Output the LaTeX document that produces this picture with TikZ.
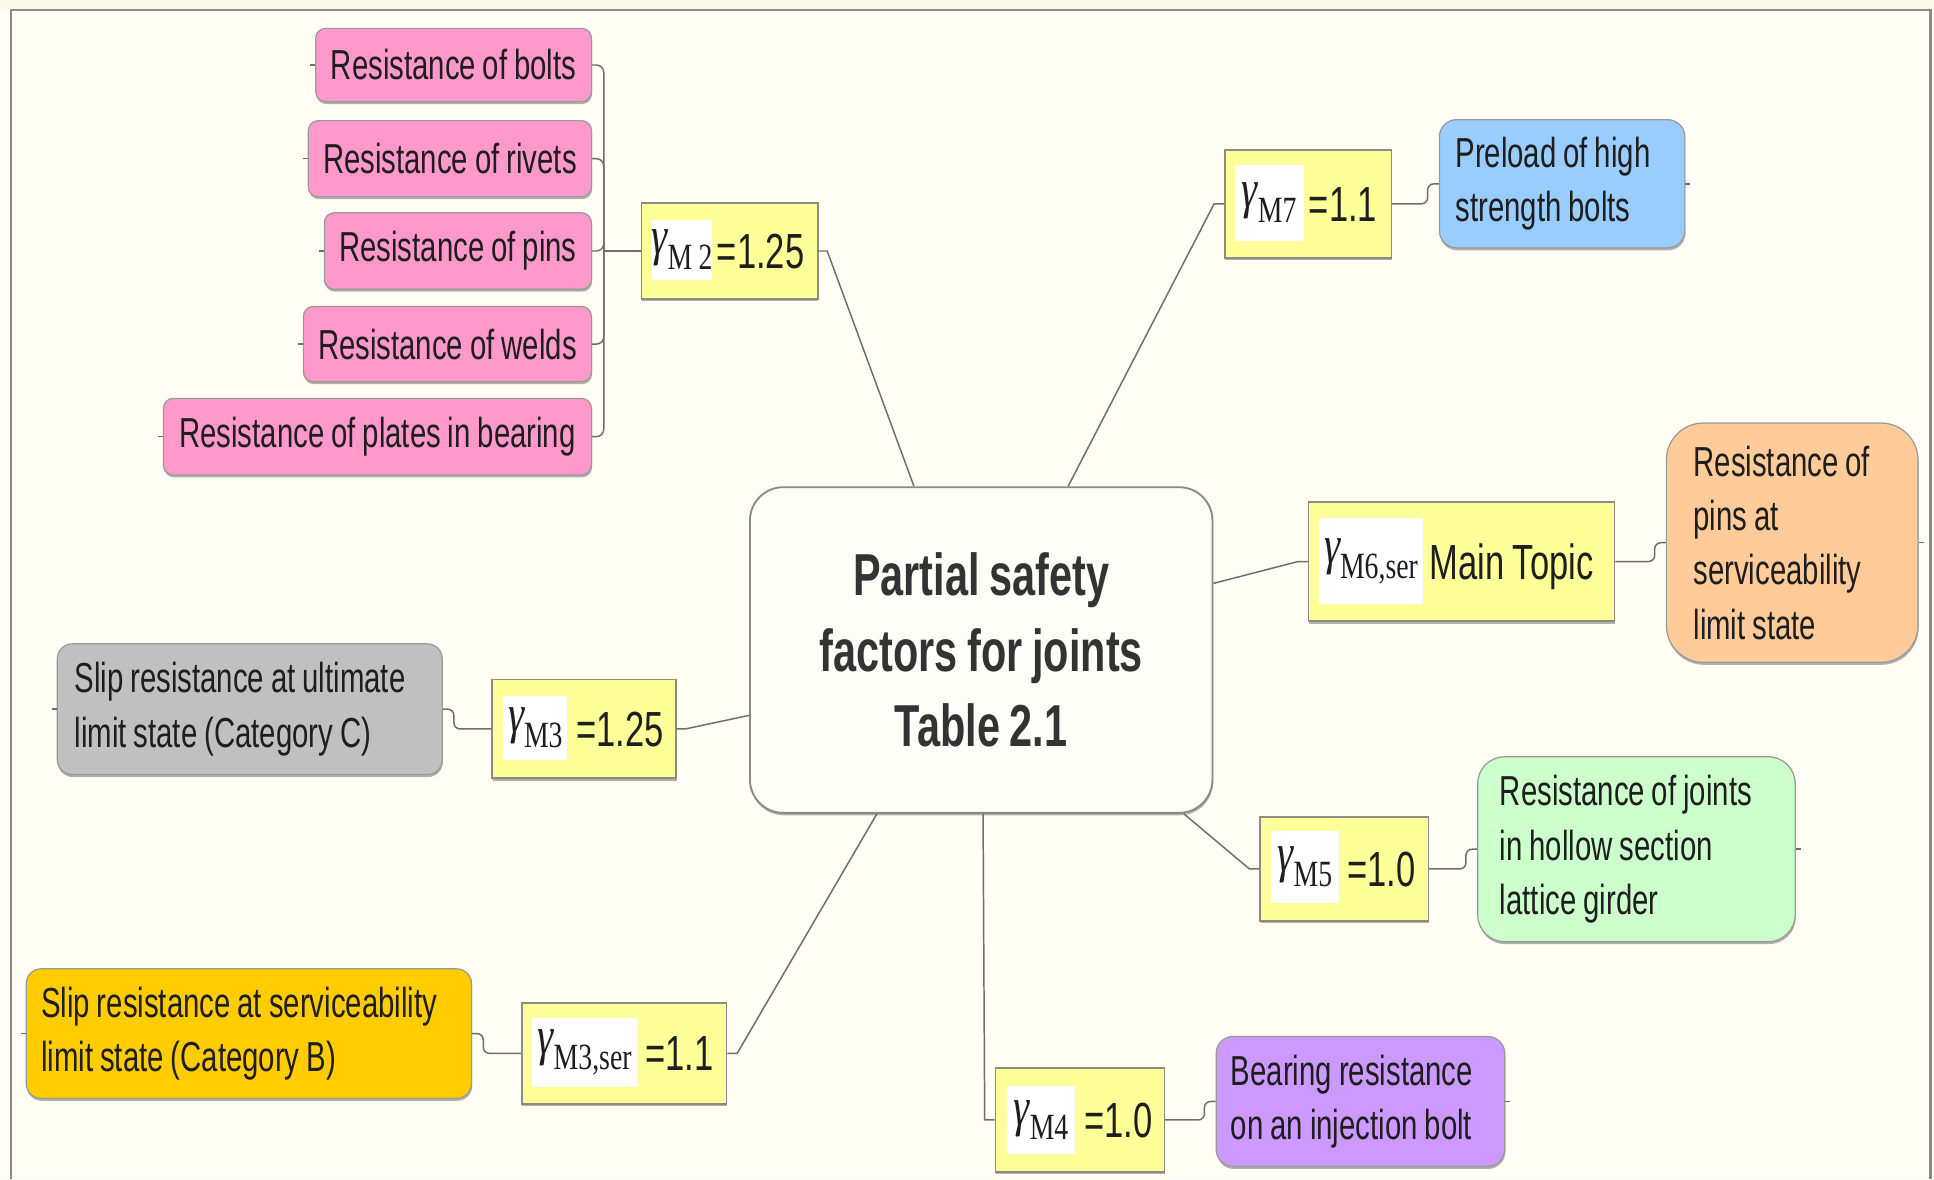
\documentclass[tikz,border=0pt]{standalone}
\usepackage{fontspec}
\setmainfont{Liberation Sans}[FakeStretch=0.7,WordSpace=0.85]
\newfontfamily\gfont{Liberation Serif}[FakeStretch=0.75]
\usetikzlibrary{calc,shadows}
\hyphenpenalty=10000
\exhyphenpenalty=10000
\definecolor{bgc}{HTML}{FEFEF5}
\definecolor{stripc}{HTML}{FAF9EA}
\definecolor{framec}{HTML}{8A8A86}
\definecolor{linec}{HTML}{6E6E6E}
\definecolor{txtc}{HTML}{1E1E1E}
\definecolor{titlec}{HTML}{333333}
\definecolor{yel}{HTML}{FFFF99}
\definecolor{ybord}{HTML}{8C8C80}
\definecolor{cbord}{HTML}{999999}
\definecolor{pinkc}{HTML}{FF99CC}
\definecolor{bluec}{HTML}{99CCFF}
\definecolor{orangec}{HTML}{FFCC99}
\definecolor{greenc}{HTML}{CCFFCC}
\definecolor{purplec}{HTML}{CC99FF}
\definecolor{grayc}{HTML}{C0C0C0}
\definecolor{goldc}{HTML}{FFCC00}
\definecolor{centerc}{HTML}{FEFEF8}
\newcommand\gsym[1]{{\gfont\fontsize{44}{44}\selectfont\itshape γ}\raisebox{-12pt}{\gfont\fontsize{30}{30}\selectfont #1}}
\tikzset{
  shade1/.style={drop shadow={shadow xshift=0.5pt, shadow yshift=-2pt, opacity=0.3, fill=black}},
  txt/.style={font=\fontsize{34}{44}\selectfont, text=txtc},
  childbox/.style={txt, draw=cbord, line width=1pt, inner ysep=0pt, align=flush left, shade1},
  pinkbox/.style={txt, draw=cbord, line width=1pt, inner sep=0pt, fill=pinkc, rounded corners=8, shade1},
  ybox/.style={draw=ybord, fill=yel, line width=1.3pt, inner sep=0pt, shade1},
  wbox/.style={fill=white, inner sep=0pt, text=txtc},
  val/.style={font=\fontsize{40}{40}\selectfont, text=txtc, inner sep=0pt, anchor=base west},
  conn/.style={draw=linec, line width=1.2pt},
}
\begin{document}
\begin{tikzpicture}[x=1pt,y=-1pt]
\useasboundingbox (0,0) rectangle (1568,956);
\fill[bgc] (0,0) rectangle (1568,956);
\fill[stripc] (0,0) rectangle (1568,7);
\draw[framec, line width=2pt] (9,956) -- (9,8) -- (1565,8) -- (1565,956);

% centre
\node[draw=framec, line width=1.5pt, fill=centerc, rounded corners=27, minimum width=375, minimum height=264, inner sep=0pt, align=center, font=\bfseries\fontsize{48}{61}\selectfont, text=titlec, shade1] (C) at (795.5,527) {Partial safety\\factors for joints\\Table 2.1};

% gamma M2 branch
\node[ybox, minimum width=143, minimum height=77.5] (M2) at (591.5,203.5) {};
\node[wbox, minimum width=46, minimum height=49] (M2g) at (553,202.5) {\gsym{M\,2}};
\node[val] (M2v) at (581,217.5) {=1.25};
\coordinate (jM2) at (489.5,203.5);
\node[pinkbox, minimum width=223.5, minimum height=59.4] (P1) at (367.75,52.7) {Resistance of bolts};
\node[pinkbox, minimum width=229.5, minimum height=61.7] (P2) at (364.75,128.65) {Resistance of rivets};
\node[pinkbox, minimum width=216.5, minimum height=62] (P3) at (371.25,203.5) {Resistance of pins};
\node[pinkbox, minimum width=233.5, minimum height=61] (P4) at (362.75,279) {Resistance of welds};
\node[pinkbox, minimum width=347, minimum height=62] (P5) at (306,354) {Resistance of plates in bearing};
\foreach \p in {P1,P2,P3,P4,P5}{
  \draw[conn, rounded corners=6] (\p.east) -| (jM2);
  \draw[conn] (\p.west) -- ++(-4,0);
}
\draw[conn] (jM2) -- (M2.west);
\draw[conn] (M2.east) -- ++(7,0) -- ($(C.north)+(-54.5,0)$);

% gamma M7
\node[ybox, minimum width=135, minimum height=87.5] (M7) at (1060.5,165.25) {};
\node[wbox, minimum width=56, minimum height=61] (M7g) at (1029,164.5) {\gsym{M7}};
\node[val] (M7v) at (1061,179.5) {=1.1};
\node[childbox, fill=bluec, rounded corners=14, minimum height=104, inner xsep=13, text width=173] (B) at (1266.5,149) {Preload of high\\strength bolts};
\draw[conn] (M7.west) -- ++(-8,0) -- ($(C.north)+(70.5,0)$);
\draw[conn, rounded corners=5] (M7.east) -| ($(B.west)+(-9,0)$) -- (B.west);
\draw[conn] (B.east) -- ++(4,0);

% gamma M6,ser
\node[ybox, minimum width=248, minimum height=96.5] (M6) at (1185,455.25) {};
\node[wbox, minimum width=85, minimum height=70] (M6g) at (1111.5,455) {\gsym{M6,ser}};
\node[val] (M6v) at (1159,470) {Main Topic};
\node[childbox, fill=orangec, rounded corners=30, minimum height=194, inner xsep=22, text width=160] (O) at (1453,440) {Resistance of\\pins at\\serviceability\\limit state};
\draw[conn] (M6.west) -- ++(-8,0) -- ($(C.east)+(0,-54)$);
\draw[conn, rounded corners=5] (M6.east) -| ($(O.west)+(-9,0)$) -- (O.west);
\draw[conn] (O.east) -- ++(4,0);

% gamma M5
\node[ybox, minimum width=136.4, minimum height=84] (M5) at (1089.8,704.5) {};
\node[wbox, minimum width=55, minimum height=58] (M5g) at (1058,703) {\gsym{M5}};
\node[val] (M5v) at (1092,718.5) {=1.0};
\node[childbox, fill=greenc, rounded corners=22, minimum height=150, inner xsep=18, text width=221.5] (G) at (1326.75,688.5) {Resistance of joints\\in hollow section\\lattice girder};
\draw[conn] (M5.west) -- ++(-8,0) -- ($(C.south east)+(-24,0)$);
\draw[conn, rounded corners=5] (M5.east) -| ($(G.west)+(-9,0)$) -- (G.west);
\draw[conn] (G.east) -- ++(4,0);

% gamma M4
\node[ybox, minimum width=137, minimum height=84] (M4) at (875.5,908) {};
\node[wbox, minimum width=55, minimum height=55] (M4g) at (844,908) {\gsym{M4}};
\node[val] (M4v) at (879,922) {=1.0};
\node[childbox, fill=purplec, rounded corners=14, minimum height=105.5, inner xsep=12, text width=210] (Pu) at (1103,893) {Bearing resistance\\on an injection bolt};
\draw[conn] (M4.west) -- ++(-8,0) -- ($(C.south)+(1.5,0)$);
\draw[conn, rounded corners=5] (M4.east) -| ($(Pu.west)+(-9,0)$) -- (Pu.west);
\draw[conn] (Pu.east) -- ++(4,0);

% gamma M3
\node[ybox, minimum width=149, minimum height=80] (M3) at (473.5,591) {};
\node[wbox, minimum width=52, minimum height=52] (M3g) at (434,590) {\gsym{M3}};
\node[val] (M3v) at (467,605) {=1.25};
\node[childbox, fill=grayc, rounded corners=12, minimum height=106, inner xsep=14, text width=284] (Gr) at (202.5,575) {Slip resistance at ultimate\\limit state (Category C)};
\draw[conn] (M3.east) -- ++(7,0) -- ($(C.west)+(0,53)$);
\draw[conn, rounded corners=5] (M3.west) -| ($(Gr.east)+(9,0)$) -- (Gr.east);
\draw[conn] (Gr.west) -- ++(-4,0);

% gamma M3,ser
\node[ybox, minimum width=166, minimum height=82] (M3s) at (506,854) {};
\node[wbox, minimum width=85, minimum height=56] (M3sg) at (474,853) {\gsym{M3,ser}};
\node[val] (M3sv) at (523,868) {=1.1};
\node[childbox, fill=goldc, rounded corners=12, minimum height=105, inner xsep=12, text width=337] (Gd) at (201.8,838) {Slip resistance at serviceability\\limit state (Category B)};
\draw[conn] (M3s.east) -- ++(8,0) -- ($(C.south)+(-84.5,0)$);
\draw[conn, rounded corners=5] (M3s.west) -| ($(Gd.east)+(9,0)$) -- (Gd.east);
\draw[conn] (Gd.west) -- ++(-4,0);
\end{tikzpicture}
\end{document}
